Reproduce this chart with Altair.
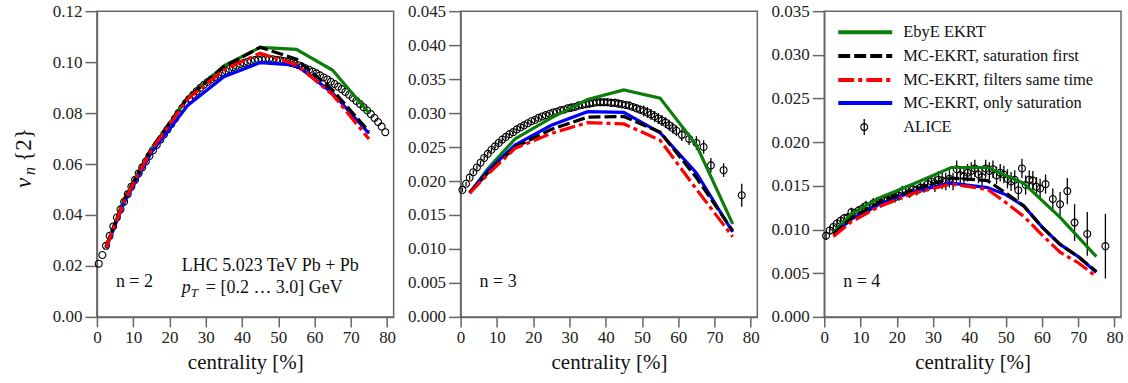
import altair as alt
import pandas as pd

FONT = "Liberation Serif"
GREEN, BLACK, RED, BLUE = "#0b7d0b", "#000000", "#ff0000", "#0000ff"
DASH_BLACK = [12, 4]
DASH_RED = [16, 4, 4, 4]

# ---------------- data ----------------
cent_fine1 = [i + 0.5 for i in range(80)]
cent_fine23 = [i + 0.5 for i in range(60)] + [61, 63, 65, 67, 69, 72.5, 77.5]
cent_model = [2.5, 7.5, 15, 25, 35, 45, 55, 65, 75]
cent_model3 = [2.5, 7.5, 15, 25, 35, 45, 50, 55, 60, 65, 70, 75]

alice_v2 = [
    0.0209, 0.0243, 0.0279, 0.0318, 0.0355, 0.0390, 0.0422, 0.0452, 0.0482, 0.0511,
    0.0538, 0.0563, 0.0587, 0.0610, 0.0632, 0.0654, 0.0675, 0.0696, 0.0716, 0.0736,
    0.0756, 0.0778, 0.0800, 0.0820, 0.0839, 0.0856, 0.0872, 0.0886, 0.0899, 0.0911,
    0.0922, 0.0932, 0.0942, 0.0951, 0.0959, 0.0966, 0.0973, 0.0980, 0.0986, 0.0992,
    0.0997, 0.1001, 0.1005, 0.1008, 0.1010, 0.1011, 0.1012, 0.1012, 0.1011, 0.1009,
    0.1007, 0.1004, 0.1001, 0.0997, 0.0993, 0.0988, 0.0982, 0.0976, 0.0970, 0.0963,
    0.0956, 0.0948, 0.0940, 0.0932, 0.0923, 0.0914, 0.0904, 0.0894, 0.0883, 0.0872,
    0.0860, 0.0848, 0.0836, 0.0823, 0.0810, 0.0796, 0.0781, 0.0765, 0.0747, 0.0725,
]

alice_v3 = [
    0.0187, 0.0196, 0.0205, 0.0213, 0.0220, 0.0227, 0.0234, 0.0240, 0.0246, 0.0251,
    0.0256, 0.0261, 0.0265, 0.0269, 0.0272, 0.0276, 0.0279, 0.0282, 0.0285, 0.0288,
    0.0290, 0.0293, 0.0295, 0.0297, 0.0299, 0.0301, 0.0302, 0.0304, 0.0305, 0.0307,
    0.0308, 0.0309, 0.0311, 0.0312, 0.0313, 0.0314, 0.0315, 0.0316, 0.0316, 0.0316,
    0.0316, 0.0315, 0.0315, 0.0314, 0.0313, 0.0312, 0.0311, 0.0309, 0.0307, 0.0305,
    0.0303, 0.0301, 0.0298, 0.0295, 0.0292, 0.0289, 0.0286, 0.0282, 0.0278, 0.0274,
    0.0268, 0.0262, 0.0256, 0.0250, 0.0223, 0.0216, 0.0179,
]
alice_v3_err = [0.0003] * 30 + [0.0006] * 20 + [0.0008] * 10 + [
    0.0009, 0.0009, 0.0010, 0.0010, 0.0011, 0.0010, 0.0017]

alice_v4 = [
    0.0093, 0.0099, 0.0103, 0.0107, 0.0110, 0.0113, 0.0114, 0.0120, 0.0119, 0.0122,
    0.0124, 0.0127, 0.0126, 0.0130, 0.0131, 0.0131, 0.0133, 0.0134, 0.0136, 0.0137,
    0.0139, 0.0144, 0.0145, 0.0142, 0.0146, 0.0145, 0.0148, 0.0148, 0.0152, 0.0155,
    0.0153, 0.0157, 0.0156, 0.0155, 0.0158, 0.0155, 0.0169, 0.0162, 0.0161, 0.0165,
    0.0167, 0.0170, 0.0163, 0.0160, 0.0170, 0.0167, 0.0169, 0.0162, 0.0165, 0.0163,
    0.0158, 0.0155, 0.0157, 0.0145, 0.0170, 0.0151, 0.0157, 0.0156, 0.0149, 0.0147,
    0.0152, 0.0135, 0.0129, 0.0144, 0.0108, 0.0095, 0.0081,
]
alice_v4_err = [0.0005] * 10 + [0.0006] * 20 + [0.0010] * 20 + [0.0011] * 10 + [
    0.0011, 0.0012, 0.0014, 0.0015, 0.0021, 0.0025, 0.0037]

green_v2 = [0.0275, 0.0462, 0.0660, 0.0860, 0.0985, 0.1058, 0.1050, 0.0968, 0.0800]
black_v2 = [0.0275, 0.0460, 0.0660, 0.0860, 0.0982, 0.1058, 0.1012, 0.0890, 0.0728]
red_v2 = [0.0272, 0.0455, 0.0655, 0.0855, 0.0970, 0.1035, 0.0990, 0.0872, 0.0698]
blue_v2 = [0.0270, 0.0448, 0.0645, 0.0830, 0.0943, 0.0998, 0.0988, 0.0878, 0.0720]

green_v3 = [0.0182, 0.0218, 0.0262, 0.0293, 0.0320, 0.0334, 0.0322, 0.0253, 0.0137]
blue_v3 = [0.0183, 0.0215, 0.0253, 0.0282, 0.0302, 0.0301, 0.0271, 0.0212, 0.0125]
black_v3 = [0.0183, 0.0212, 0.0250, 0.0276, 0.0294, 0.0295, 0.0272, 0.0205, 0.0127]
red_v3 = [0.0182, 0.0210, 0.0248, 0.0270, 0.0286, 0.0284, 0.0260, 0.0188, 0.0118]

green_v4 = [0.0097, 0.0118, 0.0136, 0.0153, 0.0171, 0.0171, 0.0153, 0.0114, 0.0069]
black_v4 = [0.0095, 0.0113, 0.0131, 0.0146, 0.0159, 0.0156, 0.0142, 0.0127, 0.0103, 0.0083, 0.0069, 0.0052]
blue_v4 = [0.0094, 0.0112, 0.0129, 0.0144, 0.0153, 0.0148, 0.0140, 0.0127, 0.0103, 0.0083, 0.0069, 0.0051]
red_v4 = [0.0092, 0.0109, 0.0126, 0.0142, 0.0152, 0.0146, 0.0131, 0.0115, 0.0094, 0.0074, 0.0062, 0.0046]

legend_labels = ["EbyE EKRT", "MC-EKRT, saturation first", "MC-EKRT, filters same time",
                 "MC-EKRT, only saturation", "ALICE"]

# ---------------- layout constants ----------------
W, H = 297, 306
X_DOMAIN = [0, 81.8]
AX_COMMON = dict(labelFont=FONT, titleFont=FONT, labelFontSize=17, titleFontSize=21,
                 titleFontWeight="normal", labelColor="#222", titleColor="#111",
                 domainColor="#666", tickColor="#666", domainWidth=1.5, tickWidth=1.5,
                 labelFlush=False, labelOverlap=False, grid=False)


def x_enc():
    return alt.X("c:Q", scale=alt.Scale(domain=X_DOMAIN, nice=False, zero=False),
                 axis=alt.Axis(values=list(range(0, 81, 10)), format="d", title="centrality [%]",
                               tickSize=10, labelPadding=3, titleY=52,
                               titleBaseline="alphabetic", **AX_COMMON))


def y_enc(field, ymax, step_n, fmt):
    vals = [round(ymax * i / step_n, 4) for i in range(step_n + 1)]
    return alt.Y(f"{field}:Q", scale=alt.Scale(domain=[0, ymax], nice=False, zero=True),
                 axis=alt.Axis(values=vals, format=fmt, title=None, tickSize=12, labelPadding=3,
                               **AX_COMMON))


def dummy():
    return alt.Chart(pd.DataFrame({"d": [0]}))


def text_at(txt, x, y, size, align="left", style="normal", angle=0, baseline="alphabetic"):
    kw = dict(align=align, baseline=baseline, font=FONT, fontSize=size, fontStyle=style, color="#111")
    if angle:
        kw["angle"] = angle
    return dummy().mark_text(**kw).encode(x=alt.value(x), y=alt.value(y), text=alt.value(txt))


def panel(data_c, data_v, data_err, models, ymax, step_n, fmt, nlabel):
    yv = y_enc("v", ymax, step_n, fmt)
    layers = []
    df = pd.DataFrame({"c": data_c, "v": data_v})
    if data_err is not None:
        df["lo"] = [v - e for v, e in zip(data_v, data_err)]
        df["hi"] = [v + e for v, e in zip(data_v, data_err)]
        layers.append(alt.Chart(df).mark_rule(color="black", strokeWidth=1.3).encode(
            x=x_enc(), y=y_enc("lo", ymax, step_n, fmt), y2="hi:Q"))
    layers.append(alt.Chart(df).mark_point(shape="circle", filled=False, size=48, color="black",
                                           strokeWidth=1.1, opacity=1).encode(x=x_enc(), y=yv))
    for cents, vals, color, dash in models:
        mdf = pd.DataFrame({"c": cents, "v": vals})
        kw = dict(color=color, strokeWidth=3.2, strokeCap="butt", strokeJoin="miter")
        if dash:
            kw["strokeDash"] = dash
        layers.append(alt.Chart(mdf).mark_line(**kw).encode(x=x_enc(), y=yv))
    layers.append(text_at(nlabel, 19, 276, 18))
    return layers


models1 = [(cent_model, green_v2, GREEN, None), (cent_model, blue_v2, BLUE, None),
           (cent_model, black_v2, BLACK, DASH_BLACK), (cent_model, red_v2, RED, DASH_RED)]
models2 = [(cent_model, green_v3, GREEN, None), (cent_model, blue_v3, BLUE, None),
           (cent_model, black_v3, BLACK, DASH_BLACK), (cent_model, red_v3, RED, DASH_RED)]
models3 = [(cent_model, green_v4, GREEN, None), (cent_model3, blue_v4, BLUE, None),
           (cent_model3, black_v4, BLACK, DASH_BLACK), (cent_model3, red_v4, RED, DASH_RED)]

l1 = panel(cent_fine1, alice_v2, None, models1, 0.12, 6, ".2f", "n = 2")
l1 += [
    text_at("LHC 5.023 TeV Pb + Pb", 85, 260, 18),
    text_at("p", 85, 282, 18, style="italic"),
    text_at("T", 94, 286, 13, style="italic"),
    text_at("= [0.2 … 3.0] GeV", 109, 282, 18),
    # y-axis title  v_n{2}
    text_at("v", -66, 172, 23, align="center", style="italic", angle=270),
    text_at("n", -62, 160, 16, align="center", style="italic", angle=270),
    text_at("{2}", -66, 134, 23, align="center", angle=270),
]

l2 = panel(cent_fine23, alice_v3, alice_v3_err, models2, 0.045, 9, ".3f", "n = 3")
l3 = panel(cent_fine23, alice_v4, alice_v4_err, models3, 0.035, 7, ".3f", "n = 4")

# legend (inside panel 3)
leg_y = [21, 45, 69, 92, 116]
leg_style = [(GREEN, None), (BLACK, DASH_BLACK), (RED, DASH_RED), (BLUE, None)]
for (color, dash), yy in zip(leg_style, leg_y[:4]):
    kw = dict(color=color, strokeWidth=4, strokeCap="butt")
    if dash:
        kw["strokeDash"] = dash
    l3.append(dummy().mark_rule(**kw).encode(x=alt.value(14), x2=alt.value(68),
                                             y=alt.value(yy)))
l3.append(dummy().mark_rule(color="black", strokeWidth=1.3).encode(
    x=alt.value(40), y=alt.value(leg_y[4] - 8), y2=alt.value(leg_y[4] + 8)))
l3.append(dummy().mark_point(shape="circle", filled=False, size=48, color="black",
                             strokeWidth=1.1, opacity=1).encode(x=alt.value(40), y=alt.value(leg_y[4])))
for lab, yy in zip(legend_labels, leg_y):
    l3.append(text_at(lab, 79, yy, 16.5, baseline="middle"))

p1 = alt.layer(*l1).properties(width=W, height=H)
p2 = alt.layer(*l2).properties(width=W, height=H)
p3 = alt.layer(*l3).properties(width=W, height=H)

chart = (
    alt.hconcat(p1, p2, p3, spacing=67, bounds="flush")
    .properties(padding={"left": 12, "top": 1, "right": 4, "bottom": 4})
    .configure_view(stroke="#666", strokeWidth=1.5)
    .configure_text(font=FONT)
    .configure_axis(**{k: v for k, v in AX_COMMON.items()
                       if k not in ("labelFlush", "labelOverlap", "grid")})
)

chart.save("out.html", embed_options={"renderer": "svg", "actions": False})
